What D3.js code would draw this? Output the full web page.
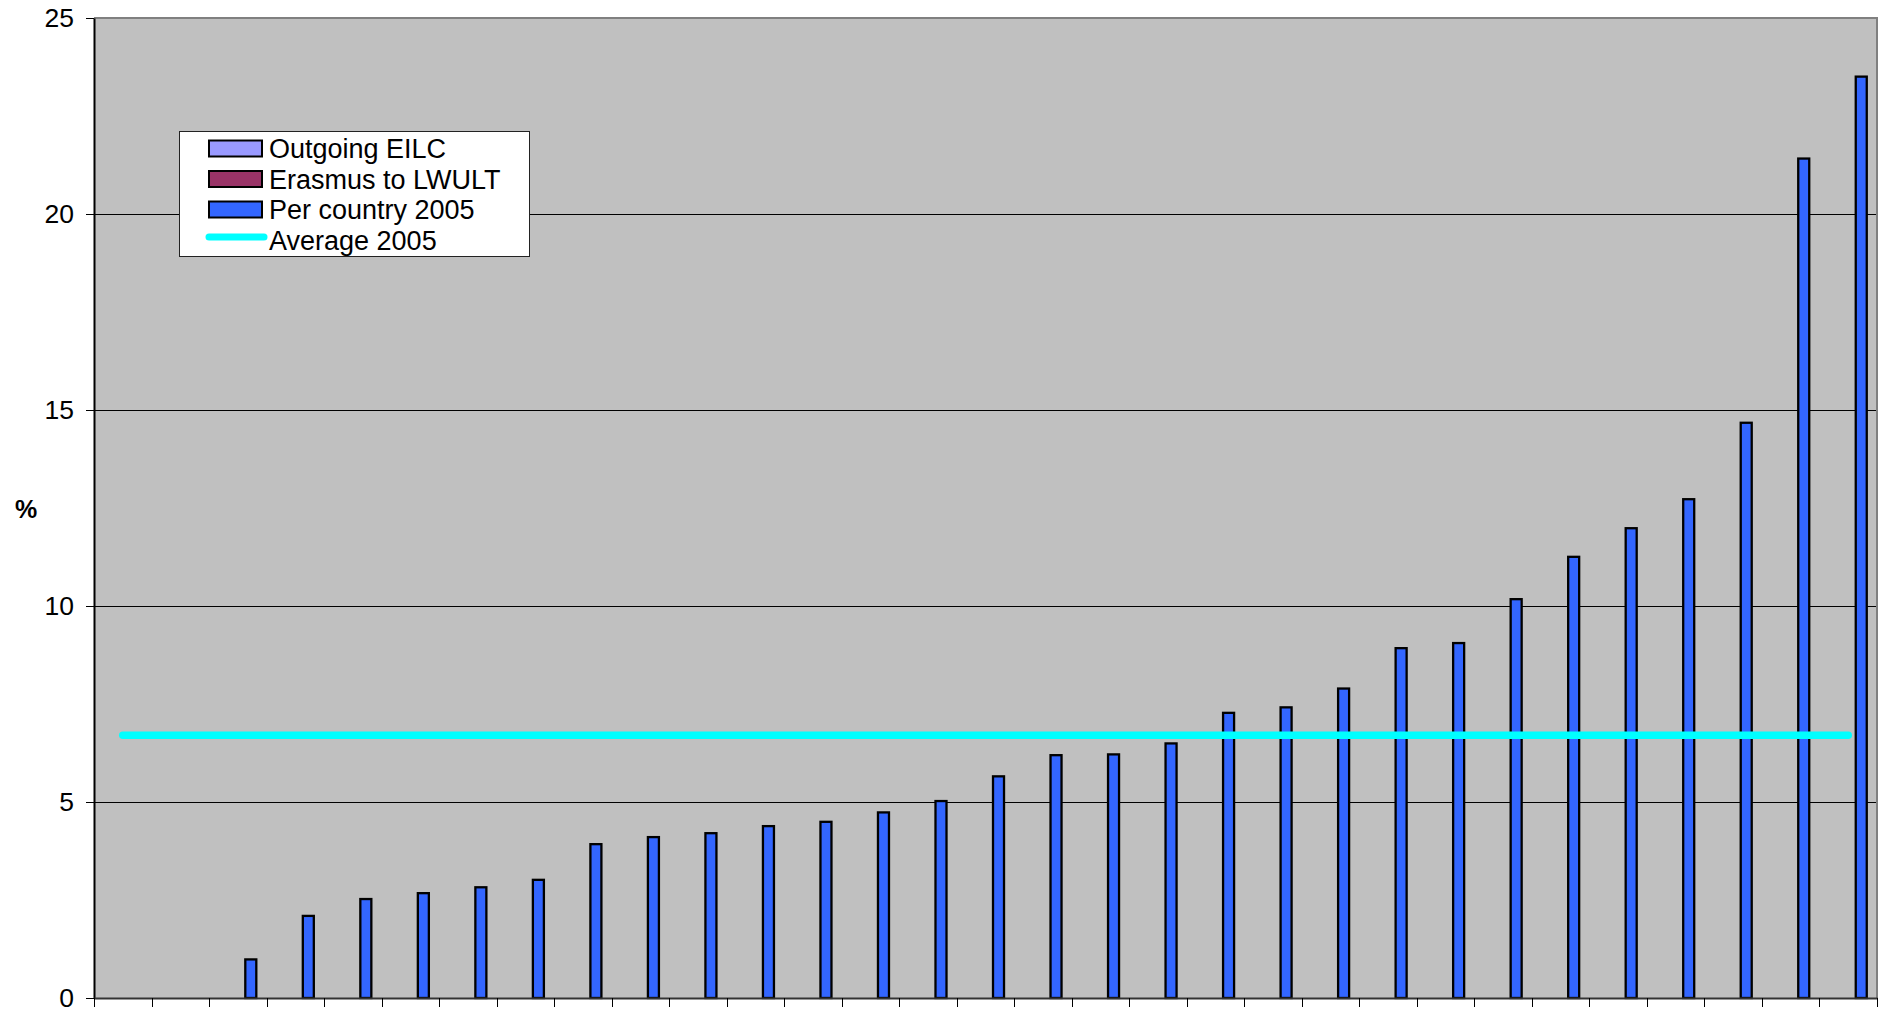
<!DOCTYPE html>
<html>
<head>
<meta charset="utf-8">
<script src="https://cdn.jsdelivr.net/npm/d3@7"></script>
<style>
  html, body { margin: 0; padding: 0; background: #ffffff; }
  svg { display: block; }
  text { font-family: "Liberation Sans", Arial, sans-serif; fill: #000; }
</style>
</head>
<body>
<svg id="chart" width="1883" height="1012"></svg>
<script>
// Country ranks along the x axis (no labels are printed on this axis)
const categories = d3.range(1, 32);

// Series names, in legend / cluster order
const seriesNames = ["Outgoing EILC", "Erasmus to LWULT", "Per country 2005"];
const seriesColors = ["#9999ff", "#993366", "#3366ff"];

// Values in % (null = no bar)
const outgoingEILC = new Array(31).fill(null);
const erasmusLWULT = new Array(31).fill(null);
const perCountry2005 = [null, null,
  1.01, 2.12, 2.55, 2.70, 2.85, 3.04, 3.95, 4.13, 4.23, 4.41,
  4.52, 4.76, 5.05, 5.68, 6.22, 6.24, 6.52, 7.30, 7.44, 7.92,
  8.95, 9.08, 10.20, 11.28, 12.01, 12.75, 14.70, 21.44, 23.53];
const average2005 = 6.7;

const yTicks = [0, 5, 10, 15, 20, 25];

const seriesValues = [outgoingEILC, erasmusLWULT, perCountry2005];

const svg = d3.select("#chart");
const plot = { left: 94, top: 18, right: 1877, bottom: 998 };

const x = d3.scaleBand().domain(categories).range([plot.left, plot.right]).padding(0);
const xInner = d3.scaleBand().domain(seriesNames).range([0, x.bandwidth()])
  .paddingInner(0).paddingOuter(0.71);
const y = d3.scaleLinear().domain([0, 25]).range([plot.bottom, plot.top]);

// plot background
svg.append("rect")
  .attr("x", plot.left).attr("y", plot.top)
  .attr("width", plot.right - plot.left).attr("height", plot.bottom - plot.top)
  .attr("fill", "#c0c0c0");

// horizontal gridlines
svg.append("g").selectAll("line")
  .data(yTicks.filter(t => t > 0 && t < 25))
  .join("line")
  .attr("x1", plot.left).attr("x2", plot.right)
  .attr("y1", d => Math.round(y(d)) + 0.5).attr("y2", d => Math.round(y(d)) + 0.5)
  .attr("stroke", "#000").attr("stroke-width", 1);

// top and right frame
svg.append("path")
  .attr("d", `M${plot.left},${plot.top}H${plot.right}V${plot.bottom}`)
  .attr("fill", "none").attr("stroke", "#808080").attr("stroke-width", 2);

// bars
seriesValues.forEach((vals, si) => {
  svg.append("g").selectAll("rect")
    .data(categories.map((c, i) => ({ c, v: vals[i] })).filter(d => d.v != null))
    .join("rect")
    .attr("x", d => x(d.c) + xInner(seriesNames[si]) + 1)
    .attr("width", xInner.bandwidth() - 2)
    .attr("y", d => y(d.v) + 1)
    .attr("height", d => y(0) - y(d.v) - 1)
    .attr("fill", seriesColors[si])
    .attr("stroke", "#000").attr("stroke-width", 2.3);
});

// average line across all categories
const line = d3.line().x(d => x(d) + x.bandwidth() / 2).y(() => y(average2005));
svg.append("path")
  .datum([categories[0], categories[categories.length - 1]])
  .attr("d", line)
  .attr("fill", "none").attr("stroke", "#00ffff")
  .attr("stroke-width", 7.5).attr("stroke-linecap", "round");

// y axis
const yAxis = d3.axisLeft(y).tickValues(yTicks).tickFormat(d3.format("d"))
  .tickSizeInner(8).tickSizeOuter(0).tickPadding(12);
const gy = svg.append("g").attr("transform", `translate(${plot.left},0)`).call(yAxis);
gy.select(".domain").attr("stroke", "#000").attr("stroke-width", 2);
gy.selectAll(".tick line").attr("stroke", "#000");
gy.selectAll(".tick text").attr("font-size", 26.5).attr("font-family", "Liberation Sans, Arial, sans-serif");

// x axis (ticks only, no labels)
const xAxis = d3.axisBottom(x).tickFormat("").tickSize(0).tickSizeOuter(0);
const gx = svg.append("g").attr("transform", `translate(0,${plot.bottom})`).call(xAxis);
gx.select(".domain").attr("stroke", "#333").attr("stroke-width", 2);
gx.selectAll(".tick").remove();
const boundaries = categories.map(c => x(c)).concat([plot.right]);
gx.selectAll("line.bt").data(boundaries).join("line").attr("class", "bt")
  .attr("x1", d => Math.round(d) + 0.5).attr("x2", d => Math.round(d) + 0.5)
  .attr("y1", 0).attr("y2", 9)
  .attr("stroke", "#000").attr("stroke-width", 1);

// y axis title
svg.append("text")
  .attr("x", 26).attr("y", 518)
  .attr("text-anchor", "middle")
  .attr("font-size", 25).attr("font-weight", "bold")
  .text("%");

// legend
const legend = svg.append("g");
legend.append("rect")
  .attr("x", 179.5).attr("y", 131.5).attr("width", 350).attr("height", 125)
  .attr("fill", "#fff").attr("stroke", "#222").attr("stroke-width", 1);
const rowY = [148.5, 179, 209.5, 240];
const legendItems = seriesNames.concat(["Average 2005"]);
legendItems.forEach((name, i) => {
  if (i < 3) {
    legend.append("rect")
      .attr("x", 209).attr("y", rowY[i] - 8).attr("width", 53).attr("height", 16)
      .attr("fill", seriesColors[i]).attr("stroke", "#000").attr("stroke-width", 2);
  } else {
    legend.append("line")
      .attr("x1", 209).attr("x2", 264).attr("y1", rowY[i] - 3).attr("y2", rowY[i] - 3)
      .attr("stroke", "#00ffff").attr("stroke-width", 7).attr("stroke-linecap", "round");
  }
  legend.append("text")
    .attr("x", 269).attr("y", rowY[i] + 9.5)
    .attr("font-size", 27)
    .text(name);
});
</script>
</body>
</html>
